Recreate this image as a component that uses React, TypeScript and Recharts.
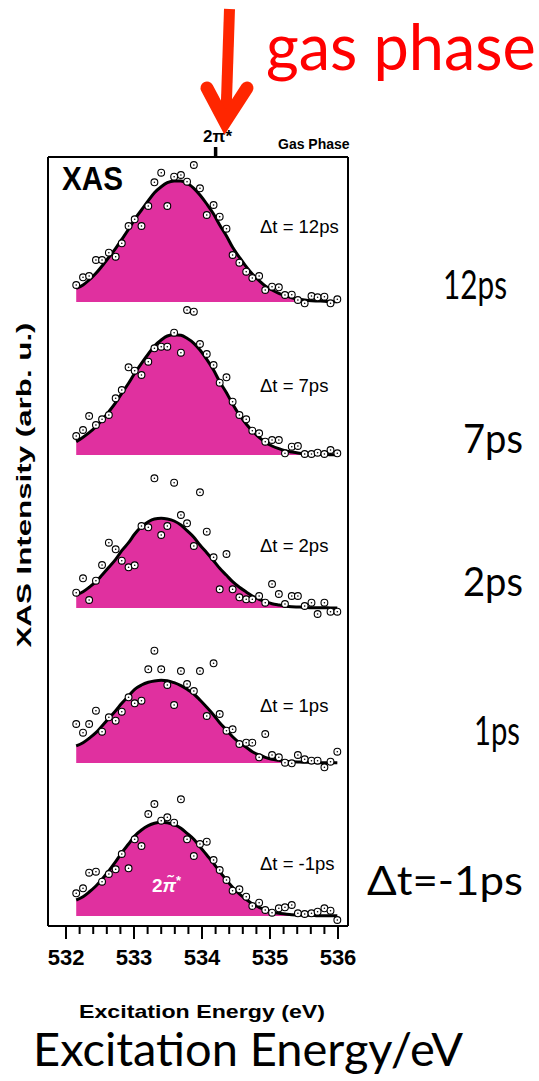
import React from "react";
import { ComposedChart, Area, Line, Scatter, XAxis, YAxis } from "recharts";

// excitation energy grid (eV), shared by every delay trace
const energy = [
  532.15, 532.25, 532.34, 532.44, 532.53, 532.63, 532.73, 532.82, 532.92, 533.01,
  533.11, 533.21, 533.3, 533.4, 533.49, 533.59, 533.69, 533.78, 533.88, 533.97,
  534.07, 534.17, 534.26, 534.36, 534.45, 534.55, 534.65, 534.74, 534.84, 534.93,
  535.03, 535.13, 535.22, 535.32, 535.41, 535.51, 535.61, 535.7, 535.8, 535.89, 535.99,
];

const delays = ["12ps", "7ps", "2ps", "1ps", "-1ps"];
// vertical offset of each trace (arb. u.)
const offsets = [62.4, 47.1, 31.8, 16.3, 1.0];

// measured XAS intensity
const xas12 = [
  1.7, 2.47, 2.6, 4.2, 4.2, 4.93, 4.53, 5.87, 7.6, 8.27,
  7.6, 9.6, 11.97, 12.93, 9.6, 12.53, 12.7, 12.03, 13.7, 11.37,
  8.7, 9.7, 8.53, 7.33, 4.7, 3.93, 3.03, 2.4, 2.6, 1.2,
  1.53, 1.47, 0.7, 0.73, 0.2, -0.13, 0.6, 0.47, 0.53, -0.13, 0.27,
];
const xas7 = [
  1.9, 2.5, 3.9, 3.0, 3.57, 4.0, 5.67, 6.5, 8.77, 8.43,
  8.0, 9.33, 10.67, 10.83, 10.83, 12.23, 10.23, 14.5, 14.33, 11.1,
  10.1, 9.0, 7.23, 7.77, 5.33, 4.0, 3.57, 2.43, 2.17, 1.33,
  1.5, 1.5, 0.17, 0.83, 0.9, 0.1, 0.1, 0.23, 0.1, 0.5, 0.17,
];
const xas2 = [
  1.53, 2.97, 0.8, 2.73, 4.3, 6.53, 5.87, 4.73, 4.07, 4.27,
  8.2, 8.07, 12.97, 7.3, 8.2, 12.53, 9.3, 8.47, 6.2, 11.57,
  7.63, 5.07, 1.87, 5.4, 1.87, 1.07, 0.87, 0.87, 1.2, 0.53,
  2.4, 1.4, 0.4, 1.2, 1.2, 0.2, 0.53, -0.6, 0.53, -0.37, -0.37,
];
const xas1 = [
  3.9, 3.03, 3.9, 5.23, 3.13, 4.57, 4.23, 5.13, 6.57, 5.97,
  6.23, 9.37, 11.23, 9.37, 7.8, 5.8, 9.2, 7.9, 7.2, 9.2,
  4.7, 9.97, 4.9, 3.23, 3.37, 1.9, 2.03, 2.03, 0.57, 2.9,
  0.8, 0.57, 0.03, -0.03, 0.8, 0.37, 0.23, 0.23, -0.43, 0.13, 1.13,
];
const xasM1 = [
  2.27, 2.77, 4.33, 4.43, 3.43, 4.2, 4.67, 6.2, 4.77, 7.67,
  7.0, 10.2, 11.2, 9.53, 9.87, 9.33, 11.67, 7.67, 6.0, 7.2,
  7.43, 5.6, 4.6, 3.6, 2.53, 2.67, 1.93, 1.0, 1.33, 0.6,
  0.33, 0.77, 0.87, 1.1, 0.27, 0.2, 0.27, 0.43, 0.77, 0.53, -0.4,
];

// fitted 2pi* band
const fit12 = [
  1.37, 1.7, 2.2, 2.87, 3.6, 4.47, 5.37, 6.27, 7.27, 8.27,
  9.2, 10.13, 10.93, 11.53, 11.93, 12.1, 12.1, 11.87, 11.37, 10.7,
  9.8, 8.8, 7.7, 6.6, 5.47, 4.47, 3.53, 2.8, 2.13, 1.6,
  1.2, 0.87, 0.63, 0.43, 0.3, 0.2, 0.13, 0.1, 0.07, 0.03, 0.03,
];
const fit7 = [
  1.33, 1.77, 2.23, 2.83, 3.5, 4.33, 5.23, 6.17, 7.17, 8.17,
  9.17, 10.1, 10.9, 11.5, 11.9, 12.03, 11.97, 11.67, 11.17, 10.5,
  9.57, 8.5, 7.33, 6.23, 5.1, 4.0, 3.1, 2.4, 1.77, 1.27,
  0.9, 0.63, 0.43, 0.3, 0.2, 0.13, 0.1, 0.07, 0.07, 0.03, 0.03,
];
const fit2 = [
  1.3, 1.63, 2.07, 2.63, 3.3, 4.07, 4.87, 5.73, 6.53, 7.4,
  8.13, 8.63, 8.9, 8.97, 8.9, 8.7, 8.3, 7.73, 7.07, 6.3,
  5.53, 4.73, 3.97, 3.27, 2.63, 2.07, 1.6, 1.2, 0.87, 0.63,
  0.43, 0.3, 0.2, 0.13, 0.1, 0.07, 0.03, 0.03, 0.03, 0, 0,
];
const fit1 = [
  1.7, 2.03, 2.47, 3.03, 3.7, 4.47, 5.23, 5.97, 6.7, 7.37,
  7.8, 8.07, 8.2, 8.27, 8.23, 8.03, 7.73, 7.37, 6.9, 6.3,
  5.57, 4.8, 4.03, 3.3, 2.63, 2.03, 1.57, 1.13, 0.8, 0.57,
  0.37, 0.27, 0.17, 0.13, 0.1, 0.07, 0.07, 0.03, 0.03, 0.03, 0.03,
];
const fitM1 = [
  1.6, 1.93, 2.4, 3.0, 3.67, 4.53, 5.43, 6.33, 7.2, 8.0,
  8.6, 9.03, 9.27, 9.37, 9.33, 9.13, 8.77, 8.27, 7.67, 6.93,
  6.1, 5.27, 4.43, 3.6, 2.87, 2.2, 1.67, 1.2, 0.87, 0.6,
  0.4, 0.27, 0.2, 0.13, 0.1, 0.07, 0.07, 0.03, 0.03, 0.03, 0.03,
];

const majorTicks = [532, 533, 534, 535, 536];
const allTicks = [
  532, 532.2, 532.4, 532.6, 532.8, 533, 533.2, 533.4, 533.6, 533.8,
  534, 534.2, 534.4, 534.6, 534.8, 535, 535.2, 535.4, 535.6, 535.8, 536,
];
const gasPhasePeak = [534.2];

const points = [xas12, xas7, xas2, xas1, xasM1];
const fits = [fit12, fit7, fit2, fit1, fitM1];

const rows = energy.map((e, i) => {
  const row: Record<string, any> = { e };
  fits.forEach((f, k) => {
    row[`f${k}`] = [offsets[k], offsets[k] + f[i]];
    row[`c${k}`] = offsets[k] + f[i];
    row[`p${k}`] = offsets[k] + points[k][i];
  });
  return row;
});

const ARIAL = "'Liberation Sans', Arial, sans-serif";
const GILL = "Lato, 'Open Sans', sans-serif";
const FILL = "#e0309f";
const X_DOMAIN = [531.735, 536.147];

function BottomTick({ x, y, payload }: any) {
  const major = majorTicks.includes(payload.value);
  return (
    <g>
      <line x1={x} x2={x} y1={y} y2={y + (major ? 13 : 8)} stroke="#000" strokeWidth={2} />
      {major && (
        <text x={x} y={y + 39} textAnchor="middle" fontFamily={ARIAL} fontWeight="bold" fontSize={22} fill="#000">
          {payload.value}
        </text>
      )}
    </g>
  );
}

function TopTick({ x }: any) {
  // drawn up from the frame's top edge
  const base = 157;
  return (
    <g>
      <line x1={x} x2={x} y1={base} y2={base - 10} stroke="#000" strokeWidth={3.5} />
      <text x={x + 2} y={base - 15} textAnchor="middle" fontFamily={ARIAL} fontWeight="bold" fontSize={17} fill="#000">
        2π*
      </text>
    </g>
  );
}

function Marker({ cx, cy }: any) {
  if (cx == null || cy == null) return null;
  return (
    <g>
      <circle cx={cx} cy={cy} r={3.4} fill="#fff" stroke="#000" strokeWidth={1.1} />
      <circle cx={cx} cy={cy} r={0.8} fill="#000" />
    </g>
  );
}

const dtBaselines = [233, 392, 552, 712, 870];
const bigLabels = [
  { text: "12ps", x: 443, y: 299, w: 64 },
  { text: "7ps", x: 463, y: 453, w: 60 },
  { text: "2ps", x: 463, y: 596, w: 60 },
  { text: "1ps", x: 474, y: 745, w: 46 },
  { text: "Δt=-1ps", x: 367, y: 895, w: 156 },
];

export default function App() {
  return (
    <div style={{ position: "absolute", left: 0, top: 0, width: 539, height: 1081, background: "#fff" }}>
      <ComposedChart
        width={539}
        height={1081}
        data={rows}
        margin={{ top: 156, right: 190, bottom: 154, left: 47 }}
      >
        <XAxis
          dataKey="e"
          type="number"
          domain={X_DOMAIN}
          allowDataOverflow
          ticks={allTicks}
          interval={0}
          height={1}
          tickSize={0}
          tickMargin={0}
          tickLine={false}
          tick={<BottomTick />}
          axisLine={{ stroke: "#000", strokeWidth: 2 }}
        />
        <XAxis
          xAxisId="top"
          dataKey="e"
          orientation="top"
          type="number"
          domain={X_DOMAIN}
          allowDataOverflow
          ticks={gasPhasePeak}
          interval={0}
          height={1}
          tickSize={0}
          tickMargin={0}
          tickLine={false}
          tick={<TopTick />}
          axisLine={{ stroke: "#000", strokeWidth: 2 }}
        />
        <YAxis
          type="number"
          domain={[0, 76.9]}
          allowDataOverflow
          width={1}
          tick={false}
          tickLine={false}
          axisLine={{ stroke: "#000", strokeWidth: 2 }}
        />
        <YAxis
          yAxisId="r"
          orientation="right"
          type="number"
          domain={[0, 76.9]}
          allowDataOverflow
          width={1}
          tick={false}
          tickLine={false}
          axisLine={{ stroke: "#000", strokeWidth: 2 }}
        />
        {delays.map((d, k) => (
          <Area
            key={`a${d}`}
            type="monotone"
            dataKey={`f${k}`}
            fill={FILL}
            fillOpacity={1}
            stroke="none"
            isAnimationActive={false}
          />
        ))}
        {delays.map((d, k) => (
          <Line
            key={`l${d}`}
            xAxisId="top"
            yAxisId="r"
            type="monotone"
            dataKey={`c${k}`}
            stroke="#000"
            strokeWidth={3}
            dot={false}
            activeDot={false}
            isAnimationActive={false}
          />
        ))}
        {delays.map((d, k) => (
          <Scatter
            key={`s${d}`}
            dataKey={`p${k}`}
            shape={(p: any) => <Marker cx={p.cx} cy={p.cy} />}
            isAnimationActive={false}
          />
        ))}
      </ComposedChart>

      <svg
        width={539}
        height={1081}
        style={{ position: "absolute", left: 0, top: 0, pointerEvents: "none" }}
      >
        <text x={62} y={190} fontFamily={ARIAL} fontWeight="bold" fontSize={33} textLength={61} lengthAdjust="spacingAndGlyphs">
          XAS
        </text>
        {delays.map((d, k) => (
          <text key={d} x={260} y={dtBaselines[k]} fontFamily={ARIAL} fontSize={18.5} fill="#000">
            {`Δt = ${d}`}
          </text>
        ))}
        <text x={152} y={892} fontFamily={ARIAL} fontWeight="bold" fontSize={19} fill="#fff">
          2<tspan fontStyle="italic">π̃</tspan>
          <tspan dy={-7} fontSize={13}>*</tspan>
        </text>

        <text x={278} y={149} fontFamily={ARIAL} fontWeight="bold" fontSize={14} fill="#000">
          Gas Phase
        </text>

        <text
          transform="translate(31,485) rotate(-90)"
          textAnchor="middle"
          fontFamily={ARIAL}
          fontWeight="bold"
          fontSize={20}
          textLength={325}
          lengthAdjust="spacingAndGlyphs"
        >
          XAS Intensity (arb. u.)
        </text>
        <text x={79} y={1018} fontFamily={ARIAL} fontWeight="bold" fontSize={19} textLength={246} lengthAdjust="spacingAndGlyphs">
          Excitation Energy (eV)
        </text>

        <text x={33} y={1066} fontFamily={GILL} fontSize={47} fill="#000" textLength={430} lengthAdjust="spacingAndGlyphs">
          Excitation Energy/eV
        </text>
        {bigLabels.map((b) => (
          <text
            key={b.text}
            x={b.x}
            y={b.y}
            fontFamily={GILL}
            fontSize={41}
            fill="#000"
            textLength={b.w}
            lengthAdjust="spacingAndGlyphs"
          >
            {b.text}
          </text>
        ))}

        <text x={266} y={70} fontFamily={GILL} fontSize={63} fill="#ff0000">
          gas phase
        </text>
        <line x1={229.5} y1={9} x2={226} y2={115} stroke="#ff2600" strokeWidth={11} />
        <polyline
          points="207,88 225,122 247,88"
          fill="none"
          stroke="#ff2600"
          strokeWidth={13}
          strokeLinecap="round"
          strokeLinejoin="miter"
          strokeMiterlimit={10}
        />
      </svg>
    </div>
  );
}
